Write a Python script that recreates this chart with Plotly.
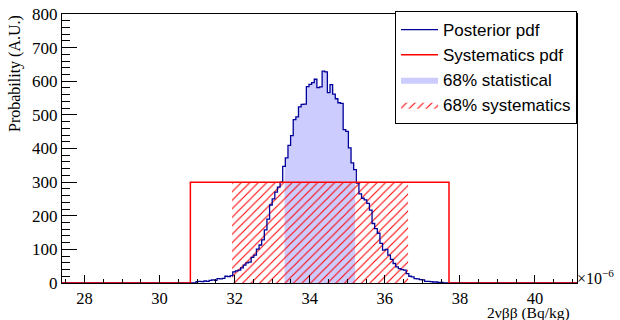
import numpy as np
import plotly.graph_objects as go

# ---------------- data ----------------
x_range = [27.4, 41.12]          # units of 1e-6 Bq/kg
y_range = [0, 800]
x_tick_values = [28, 30, 32, 34, 36, 38, 40]
bin_width = 0.07
first_bin_edge = 30.90
posterior_counts = [
    0, 4, 5, 4, 6, 5, 8, 9, 8, 13, 12, 14, 20, 19, 22, 33, 36, 38, 45, 53,
    60, 62, 76, 83, 101, 113, 128, 158, 190, 232, 250, 270, 285, 300, 347, 372, 409, 438, 486, 494,
    524, 531, 532, 584, 591, 596, 606, 581, 583, 630, 628, 566, 590, 562, 548, 536, 534, 456, 451, 402,
    357, 337, 297, 265, 252, 247, 237, 217, 177, 162, 148, 118, 98, 100, 83, 70, 58, 48, 43, 40,
    38, 28, 20, 18, 13, 12, 10, 9, 5, 5, 4, 3, 3, 2, 2, 0,
]
syst_pdf_range = [30.82, 37.71]
syst_pdf_height = 300
stat_interval = [33.33, 35.21]
syst_interval = [31.93, 36.62]

legend_labels = ["Posterior pdf", "Systematics pdf", "68% statistical", "68% systematics"]

# ---------------- build ----------------
vals = np.array(posterior_counts, dtype=float)
edges = first_bin_edge + bin_width * np.arange(len(vals) + 1)

def value_at(x):
    i = int(np.floor((x - first_bin_edge) / bin_width + 1e-9))
    if 0 <= i < len(vals):
        return vals[i]
    return 0.0

post_x = [x_range[0]] + list(edges) + [x_range[1]]
post_y = [0.0] + list(vals) + [0.0, 0.0]

lo, hi = stat_interval
inner = [e for e in edges if lo < e < hi]
stat_x = [lo] + inner + [hi]
stat_y = [value_at(x) for x in stat_x[:-1]] + [value_at(stat_x[-2])]

a, b = syst_pdf_range
sys_x = [x_range[0], a, a, b, b, x_range[1]]
sys_y = [0, 0, syst_pdf_height, syst_pdf_height, 0, 0]

sl, sh = syst_interval
hat_x = [sl, sl, sh, sh, sl]
hat_y = [0, syst_pdf_height, syst_pdf_height, 0, 0]

fig = go.Figure()
fig.add_trace(go.Scatter(
    x=stat_x, y=stat_y, mode="lines", line=dict(shape="hv", width=0, color="#ccccff"),
    fill="tozeroy", fillcolor="#ccccff", name=legend_labels[2], legendrank=3,
    hoverinfo="skip"))
fig.add_trace(go.Scatter(
    x=hat_x, y=hat_y, mode="lines", line=dict(width=0, color="red"),
    fill="toself", fillcolor="rgba(0,0,0,0)",
    fillpattern=dict(shape="/", fgcolor="#ff0000", bgcolor="rgba(0,0,0,0)", size=6, solidity=0.18),
    name=legend_labels[3], legendrank=4, hoverinfo="skip"))
fig.add_trace(go.Scatter(
    x=post_x, y=post_y, mode="lines", line=dict(shape="hv", width=1.3, color="#000099"),
    name=legend_labels[0], legendrank=1))
fig.add_trace(go.Scatter(
    x=sys_x, y=sys_y, mode="lines", line=dict(width=1.5, color="#ff0000"),
    name=legend_labels[1], legendrank=2))

serif = "Liberation Serif, Times New Roman, serif"
sans = "Liberation Sans, Arial, sans-serif"
plot_h = 320 - 14 - 37

fig.update_layout(
    template="none",
    width=620, height=320,
    margin=dict(l=62, r=43, t=14, b=37, autoexpand=False),
    paper_bgcolor="white", plot_bgcolor="white",
    showlegend=True,
    legend=dict(x=1, y=1 + 3 / plot_h, xanchor="right", yanchor="top",
                bgcolor="white", bordercolor="black", borderwidth=1,
                font=dict(family=sans, size=17, color="black"),
                itemwidth=37, tracegroupgap=0),
)
fig.update_xaxes(
    range=x_range, tickvals=x_tick_values, ticks="inside", ticklen=8, tickwidth=1,
    tickcolor="black", showline=True, linecolor="black", linewidth=1, mirror=True,
    showgrid=False, zeroline=False, automargin=False,
    tickfont=dict(family=serif, size=16.5, color="black"),
    minor=dict(dtick=0.5, tick0=0, ticks="inside", ticklen=4, tickcolor="black", showgrid=False),
)
fig.update_yaxes(
    range=y_range, dtick=100, tick0=0, ticks="inside", ticklen=15, tickwidth=1,
    tickcolor="black", showline=True, linecolor="black", linewidth=1, mirror=True,
    showgrid=False, zeroline=False, automargin=False,
    tickfont=dict(family=serif, size=17, color="black"),
    minor=dict(dtick=20, tick0=0, ticks="inside", ticklen=7.5, tickcolor="black", showgrid=False),
)

fig.add_annotation(text="2νββ (Bq/kg)", xref="paper", yref="paper", x=1, y=0,
                   xanchor="right", yanchor="middle", xshift=-6, yshift=-30, showarrow=False,
                   borderpad=0, font=dict(family=serif, size=15.5, color="black"))
fig.add_annotation(text="Probability (A.U.)", xref="paper", yref="paper", x=0,
                   y=1 - (74 - 14) / plot_h,
                   xanchor="center", yanchor="middle", xshift=-47, textangle=-90, showarrow=False,
                   font=dict(family=serif, size=16, color="black"))
fig.add_annotation(text="×10<sup>−6</sup>", xref="paper", yref="paper", x=1, y=0,
                   xanchor="left", yanchor="middle", xshift=-1, yshift=6, showarrow=False,
                   borderpad=0, font=dict(family=serif, size=16, color="black"))

fig.write_html("out.html", config={"displayModeBar": False},
               post_script="document.body.style.margin='0';document.body.style.overflow='hidden';")
